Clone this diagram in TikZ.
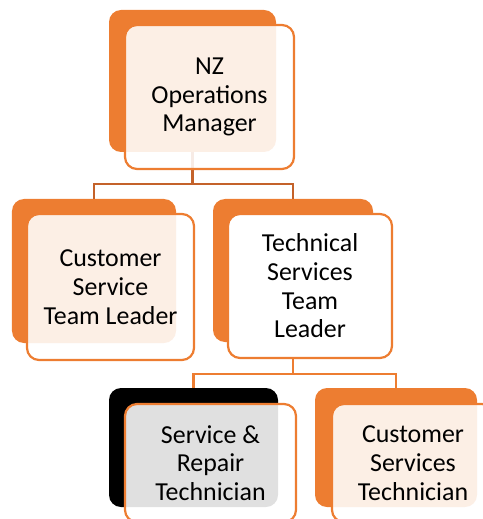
\documentclass[tikz,border=0pt]{standalone}
\usepackage{fontspec}
\setmainfont{Carlito}
\usepackage{tikz}
\usetikzlibrary{positioning}
\definecolor{naranja}{HTML}{ED7D31}
\definecolor{marron}{HTML}{C4622A}

\begin{document}
\begin{tikzpicture}[
  x=1bp, y=1bp,
  font=\fontsize{26}{28.8}\selectfont,
  fondo/.style={fill=naranja, rounded corners=12bp, inner sep=0pt},
  caja/.style={draw=naranja, line width=2.2bp, fill=white, fill opacity=0.88,
    text opacity=1, rounded corners=12bp, align=center, inner sep=0pt},
  linea/.style={line width=2.3bp, naranja}
]
  \path[use as bounding box, clip] (0,0) rectangle (483,-519);

  % back plates
  \node[fondo, minimum width=167bp, minimum height=142bp] (jefe) at (192.5,-81) {};
  \node[fondo, minimum width=164bp, minimum height=144bp] (cs) at (94,-271) {};
  \node[fondo, minimum width=160bp, minimum height=143bp] (ts) at (293,-270.5) {};
  \node[fondo, fill=black, minimum width=169bp, minimum height=119bp] (rep) at (193.5,-447.5) {};
  \node[fondo, minimum width=162bp, minimum height=119bp] (tec) at (396,-447.5) {};

  % reporting lines
  \draw[linea, marron] (jefe.south) -- ++(0,-32) -| (cs.north);
  \draw[linea, marron] (jefe.south) -- ++(0,-32) -| (ts.north);
  \draw[linea] (ts.south) -- ++(0,-32) -| (rep.north);
  \draw[linea] (ts.south) -- ++(0,-32) -| (tec.north);

  % front cards
  \node[caja, minimum width=169bp, minimum height=144bp] (jefe-t) at (209.5,-97)
    {NZ\\Operations\\Manager};
  \node[caja, minimum width=167bp, minimum height=146bp] (cs-t) at (110.5,-287)
    {Customer\\Service\\Team Leader};
  \node[caja, fill opacity=1, minimum width=164bp, minimum height=144bp] (ts-t) at (310,-286)
    {Technical\\Services\\Team\\Leader};
  \node[caja, minimum width=171bp, minimum height=118bp] (rep-t) at (210.5,-463)
    {Service \&\\Repair\\Technician};
  \node[caja, minimum width=162bp, minimum height=118bp] (tec-t) at (413,-463)
    {Customer\\Services\\Technician};
\end{tikzpicture}
\end{document}
